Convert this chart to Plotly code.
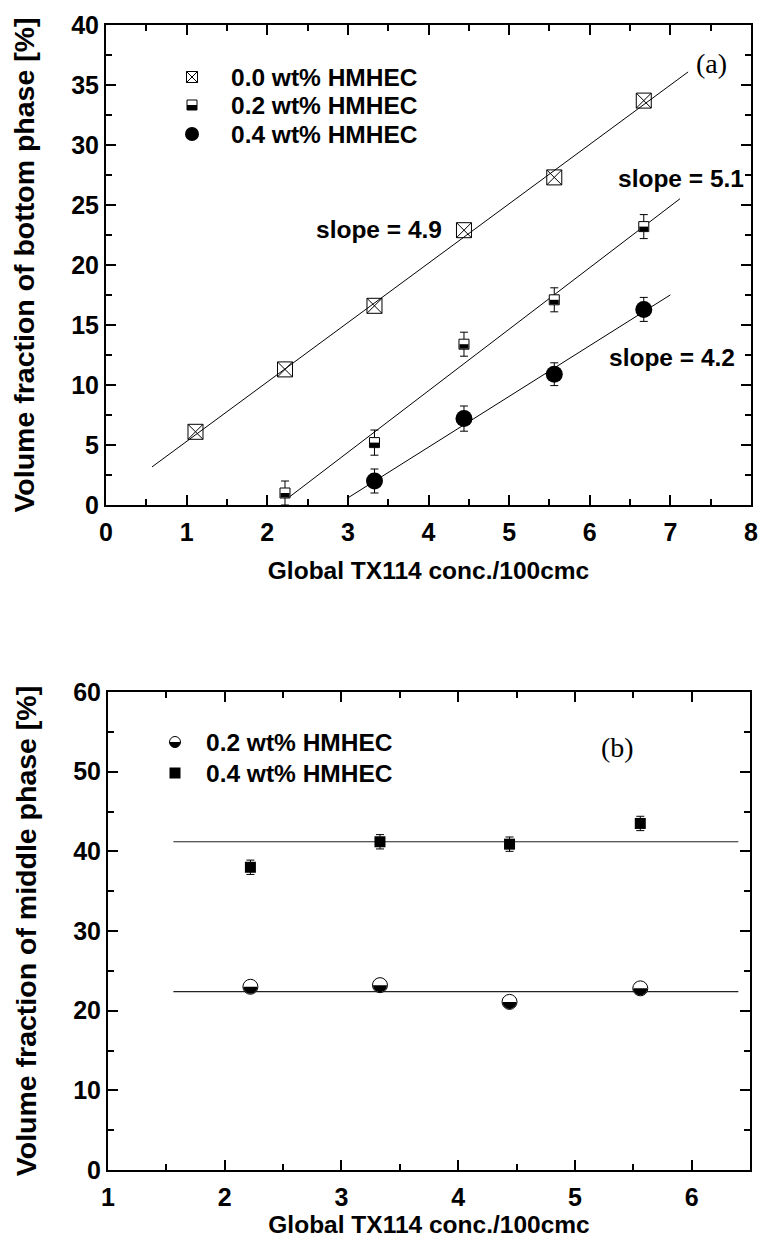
import numpy as np
import plotly.graph_objects as go

# figure placed at the window origin; height kept a little under the
# window so the page never overflows (overflow makes the shot shrink)
W, H = 761, 1238

# ---------------- data: panel (a) ----------------
conc_a = [1.11, 2.22, 3.33, 4.44, 5.56, 6.67]
bottom_00 = [6.1, 11.3, 16.6, 22.9, 27.3, 33.7]
conc_a2 = [2.22, 3.33, 4.44, 5.56, 6.67]
bottom_02 = [1.0, 5.2, 13.4, 17.1, 23.2]
bottom_02_err = [1.0, 1.05, 1.0, 1.0, 1.0]
conc_a4 = [3.33, 4.44, 5.56, 6.67]
bottom_04 = [2.0, 7.2, 10.9, 16.3]
bottom_04_err = [1.0, 1.05, 0.95, 1.0]

# linear fits (slope, intercept, x-range)
fit_00 = (4.95, 0.35, [0.57, 7.22])
fit_02 = (5.13, -11.0, [2.28, 7.12])
fit_04 = (4.23, -12.1, [3.0, 7.0])
slope_labels = ["slope = 4.9", "slope = 5.1", "slope = 4.2"]
slope_label_pos = [(3.39, 23.0), (7.13, 27.25), (7.02, 12.33)]

# ---------------- data: panel (b) ----------------
conc_b = [2.22, 3.33, 4.44, 5.56]
middle_02 = [23.0, 23.2, 21.1, 22.8]
middle_04 = [38.0, 41.2, 40.9, 43.5]
middle_04_err = [0.9, 0.9, 0.9, 0.9]
mean_02 = 22.4
mean_04 = 41.2
mean_range = [1.56, 6.4]

legend_a = ["0.0 wt% HMHEC", "0.2 wt% HMHEC", "0.4 wt% HMHEC"]
legend_b = ["0.2 wt% HMHEC", "0.4 wt% HMHEC"]

# ---------------- layout helpers (window pixel -> paper) ----------------
def px_x(p):
    return p / W

def px_y(p):
    return 1 - p / H

A_X = (106, 751)
A_Y = (25, 505)
B_X = (108, 750)
B_Y = (692, 1170)

FONT = "Liberation Sans"
SERIF = "Liberation Serif"
BLK = "black"

fig = go.Figure()

def err(arr):
    return dict(type="data", array=arr, visible=True, color=BLK, thickness=1, width=4)

# panel (a) fit lines
for slope, icpt, xr in (fit_00, fit_02, fit_04):
    xs = np.array(xr)
    fig.add_trace(go.Scatter(x=xs, y=slope * xs + icpt, mode="lines",
                             line=dict(color=BLK, width=1), xaxis="x", yaxis="y",
                             showlegend=False, hoverinfo="skip"))

fig.add_trace(go.Scatter(x=conc_a, y=bottom_00, mode="markers", xaxis="x", yaxis="y",
                         marker=dict(symbol="square-x-open", size=15, color=BLK,
                                     line=dict(width=1, color=BLK)), showlegend=False))
fig.add_trace(go.Scatter(x=conc_a2, y=bottom_02, mode="markers", xaxis="x", yaxis="y",
                         error_y=err(bottom_02_err),
                         marker=dict(symbol="square", size=10, color="white",
                                     line=dict(width=1, color=BLK)), showlegend=False))
fig.add_trace(go.Scatter(x=conc_a4, y=bottom_04, mode="markers", xaxis="x", yaxis="y",
                         error_y=err(bottom_04_err),
                         marker=dict(symbol="circle", size=17, color=BLK,
                                     line=dict(width=0)), showlegend=False))

# panel (b)
for m in (mean_04, mean_02):
    xs = np.array(mean_range)
    fig.add_trace(go.Scatter(x=xs, y=[m, m], mode="lines", line=dict(color="#222", width=1.2),
                             xaxis="x2", yaxis="y2", showlegend=False, hoverinfo="skip"))
fig.add_trace(go.Scatter(x=conc_b, y=middle_04, mode="markers", xaxis="x2", yaxis="y2",
                         error_y=err(middle_04_err),
                         marker=dict(symbol="square", size=11, color=BLK, line=dict(width=0)),
                         showlegend=False))
fig.add_trace(go.Scatter(x=conc_b, y=middle_02, mode="markers", xaxis="x2", yaxis="y2",
                         marker=dict(symbol="circle", size=15, color="white",
                                     line=dict(width=1, color=BLK)), showlegend=False))

shapes = []

def half_square_path(h):
    return f"M {-h},0 L {h},0 L {h},{-h} L {-h},{-h} Z"

def half_circle_path(r, n=24):
    t = np.linspace(0, np.pi, n)
    pts = [(r * np.cos(a), -r * np.sin(a)) for a in t]
    return "M " + " L ".join(f"{x:.2f},{y:.2f}" for x, y in pts) + " Z"

# half fill of markers
for xv, yv in zip(conc_a2, bottom_02):
    shapes.append(dict(type="path", xref="x", yref="y", xsizemode="pixel", ysizemode="pixel",
                       xanchor=xv, yanchor=yv, path=half_square_path(4.5),
                       fillcolor=BLK, line=dict(width=0)))
for xv, yv in zip(conc_b, middle_02):
    shapes.append(dict(type="path", xref="x2", yref="y2", xsizemode="pixel", ysizemode="pixel",
                       xanchor=xv, yanchor=yv, path=half_circle_path(7),
                       fillcolor=BLK, line=dict(width=0)))

# ---------------- manual legends ----------------
def glyph(kind, cx, cy):
    ax, ay = px_x(cx), px_y(cy)
    base = dict(xref="paper", yref="paper", xsizemode="pixel", ysizemode="pixel",
                xanchor=ax, yanchor=ay)
    out = []
    if kind == "sqx":
        h = 5.5
        out.append(dict(base, type="path",
                        path=f"M {-h},{-h} L {h},{-h} L {h},{h} L {-h},{h} Z M {-h},{-h} L {h},{h} M {-h},{h} L {h},{-h}",
                        line=dict(color=BLK, width=1)))
    elif kind == "halfsq":
        h = 5
        out.append(dict(base, type="path",
                        path=f"M {-h},{-h} L {h},{-h} L {h},{h} L {-h},{h} Z",
                        fillcolor="white", line=dict(color=BLK, width=1)))
        out.append(dict(base, type="path", path=half_square_path(h), fillcolor=BLK,
                        line=dict(width=0)))
    elif kind == "circle":
        r = 7
        out.append(dict(base, type="circle", x0=-r, x1=r, y0=-r, y1=r, fillcolor=BLK,
                        line=dict(width=0)))
    elif kind == "halfcircle":
        r = 5.5
        out.append(dict(base, type="circle", x0=-r, x1=r, y0=-r, y1=r, fillcolor="white",
                        line=dict(color=BLK, width=1)))
        out.append(dict(base, type="path", path=half_circle_path(r), fillcolor=BLK,
                        line=dict(width=0)))
    elif kind == "square":
        h = 5.5
        out.append(dict(base, type="rect", x0=-h, x1=h, y0=-h, y1=h, fillcolor=BLK,
                        line=dict(width=0)))
    return out

annotations = []
LEG_FONT = dict(family=FONT, size=24.5, color=BLK, weight="bold")
for kind, label, cy in zip(["sqx", "halfsq", "circle"], legend_a, [77, 105, 134]):
    shapes += glyph(kind, 192, cy)
    annotations.append(dict(xref="paper", yref="paper", x=px_x(229), y=px_y(cy), text=label,
                            showarrow=False, xanchor="left", yanchor="middle", font=LEG_FONT))
for kind, label, cy in zip(["halfcircle", "square"], legend_b, [742, 773]):
    shapes += glyph(kind, 175, cy)
    annotations.append(dict(xref="paper", yref="paper", x=px_x(204), y=px_y(cy), text=label,
                            showarrow=False, xanchor="left", yanchor="middle", font=LEG_FONT))

for txt, (xv, yv) in zip(slope_labels, slope_label_pos):
    annotations.append(dict(xref="x", yref="y", x=xv, y=yv, text=txt, showarrow=False,
                            xanchor="center", yanchor="middle", font=LEG_FONT))

annotations.append(dict(xref="paper", yref="paper", x=px_x(711), y=px_y(63), text="(a)",
                        showarrow=False, xanchor="center", yanchor="middle",
                        font=dict(family=SERIF, size=28, color=BLK)))
annotations.append(dict(xref="paper", yref="paper", x=px_x(617), y=px_y(747), text="(b)",
                        showarrow=False, xanchor="center", yanchor="middle",
                        font=dict(family=SERIF, size=28, color=BLK)))

TICKFONT = dict(family=FONT, size=25, color=BLK, weight="bold")
XTITLEFONT = dict(family=FONT, size=24.5, color=BLK, weight="bold")
YTITLEFONT = dict(family=FONT, size=28.5, color=BLK, weight="bold")

def axis_common(**kw):
    d = dict(showline=True, linecolor=BLK, linewidth=2, mirror="allticks", ticks="inside",
             ticklen=10, tickwidth=2, tickcolor=BLK, showgrid=False, zeroline=False,
             tickfont=TICKFONT, automargin=False)
    d.update(kw)
    return d

def minor(dt):
    return dict(ticks="inside", ticklen=6, tickwidth=1.5, tickcolor=BLK, dtick=dt,
                showgrid=False)

fig.update_layout(
    width=W, height=H, margin=dict(l=0, r=0, t=0, b=0),
    paper_bgcolor="white", plot_bgcolor="white", showlegend=False,
    xaxis=axis_common(domain=[px_x(A_X[0]), px_x(A_X[1])], anchor="y", range=[0, 8],
                      tick0=0, dtick=1, minor=minor(0.5), ticklabelstandoff=4,
                      title=dict(text="Global TX114 conc./100cmc", font=XTITLEFONT, standoff=17)),
    yaxis=axis_common(domain=[px_y(A_Y[1]), px_y(A_Y[0])], anchor="x", range=[0, 40],
                      tick0=0, dtick=5, minor=minor(2.5),
                      title=dict(text="Volume fraction of bottom phase [%]", font=YTITLEFONT,
                                 standoff=28)),
    xaxis2=axis_common(domain=[px_x(B_X[0]), px_x(B_X[1])], anchor="y2", range=[1, 6.5],
                       tick0=1, dtick=1, minor=minor(0.5), ticklabelstandoff=4,
                       title=dict(text="Global TX114 conc./100cmc", font=XTITLEFONT, standoff=19)),
    yaxis2=axis_common(domain=[px_y(B_Y[1]), px_y(B_Y[0])], anchor="x2", range=[0, 60],
                       tick0=0, dtick=10, minor=minor(5),
                       title=dict(text="Volume fraction of middle phase [%]", font=YTITLEFONT,
                                  standoff=28)),
    shapes=shapes, annotations=annotations,
)

fig.write_html("out.html")
